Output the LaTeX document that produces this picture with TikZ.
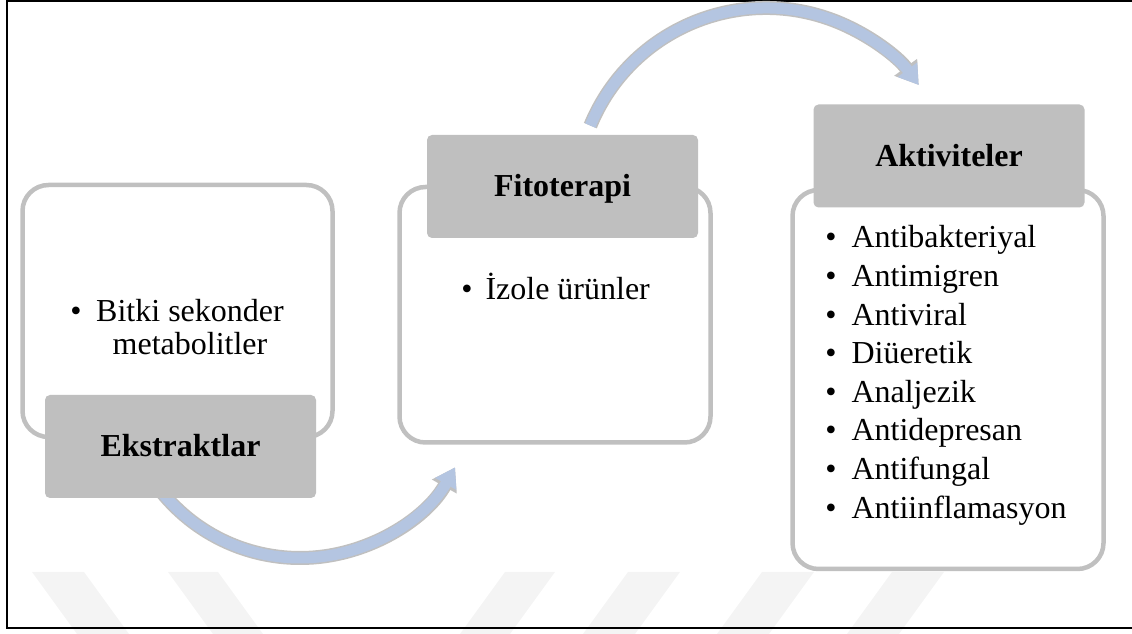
\documentclass[tikz,border=0pt]{standalone}
\usepackage{fontspec}
\setmainfont{Liberation Serif}
\usetikzlibrary{arrows.meta}
\definecolor{boxgray}{RGB}{191,191,191}
\definecolor{panelgray}{RGB}{192,192,192}
\definecolor{arrowblue}{RGB}{180,197,225}
\definecolor{markgray}{RGB}{244,244,244}

\begin{document}
\begin{tikzpicture}[x=1pt,y=1pt,
  every node/.style={inner sep=0pt,outer sep=0pt},
  panel/.style={draw=panelgray,line width=4.5pt,fill=white,rounded corners=26pt},
  headbox/.style={fill=boxgray,rounded corners=5pt,minimum width=271pt,minimum height=103pt,
    font=\bfseries\fontsize{32}{38}\selectfont,text height=21pt,text depth=0pt},
  itemtext/.style={anchor=base west,font=\fontsize{32}{38}\selectfont},
  bulletmark/.style={anchor=base east,font=\fontsize{32}{38}\selectfont},
  flowshade/.style={draw=panelgray,line width=14pt,-{Triangle[width=27pt,length=22pt]}},
  flowarrow/.style={draw=arrowblue,line width=11pt,-{Triangle[width=23pt,length=19pt]}}]
\useasboundingbox (0,0) rectangle (1132,634);
\foreach \xa/\wd/\sl in {32/52/45,168/50/45,505/50/-45,628/52/-45,762/52/-45,892/52/-45}
  \fill[markgray] (\xa,62) -- ++(\wd,0) -- ++(\sl,-62) -- ++(-\wd,0) -- cycle;
\draw[line width=2pt] (1134,633) -- (7,633) -- (7,6) -- (1134,6);

\node[panel,minimum width=310pt,minimum height=252pt] (expanel) at (177.5,323) {};
\node[panel,minimum width=311pt,minimum height=255.5pt] (fitpanel) at (555,319.25) {};
\node[panel,minimum width=311pt,minimum height=379pt] (actpanel) at (948,254.5) {};

\coordinate (lowc) at (300,254);
\coordinate (highc) at (766,436);
\draw[flowshade] (lowc) ++(218:178) arc[start angle=218,end angle=330.6,radius=178];
\draw[flowarrow] (lowc) ++(218:178) arc[start angle=218,end angle=330.6,radius=178];
\draw[flowshade] (highc) ++(157.6:190) arc[start angle=157.6,end angle=36.5,radius=190];
\draw[flowarrow] (highc) ++(157.6:190) arc[start angle=157.6,end angle=36.5,radius=190];

\node[headbox] (ekstr) at (180.5,187.5) {Ekstraktlar};
\node[headbox] (fito) at (562.5,447.5) {Fitoterapi};
\node[headbox] (aktiv) at (949,478) {Aktiviteler};

\node[anchor=base,font=\fontsize{32}{33}\selectfont] (bitki) at (190,312)
  {\begin{tabular}[t]{@{}c@{}}Bitki sekonder\\metabolitler\end{tabular}};
\node[bulletmark] (bitkib) at (81.5,312) {\textbullet};

\node[itemtext] (izole) at (485.5,334) {İzole ürünler};
\node[bulletmark] (izoleb) at ([xshift=-13pt]izole.base west) {\textbullet};

\foreach \txt [count=\i] in {Antibakteriyal,Antimigren,Antiviral,Diüeretik,Analjezik,Antidepresan,Antifungal,Antiinflamasyon} {
  \node[itemtext] (act\i) at (851.5,{386-(\i-1)*38.6}) {\txt};
  \node[bulletmark] (actb\i) at ([xshift=-15pt]act\i.base west) {\textbullet};
}
\end{tikzpicture}
\end{document}
